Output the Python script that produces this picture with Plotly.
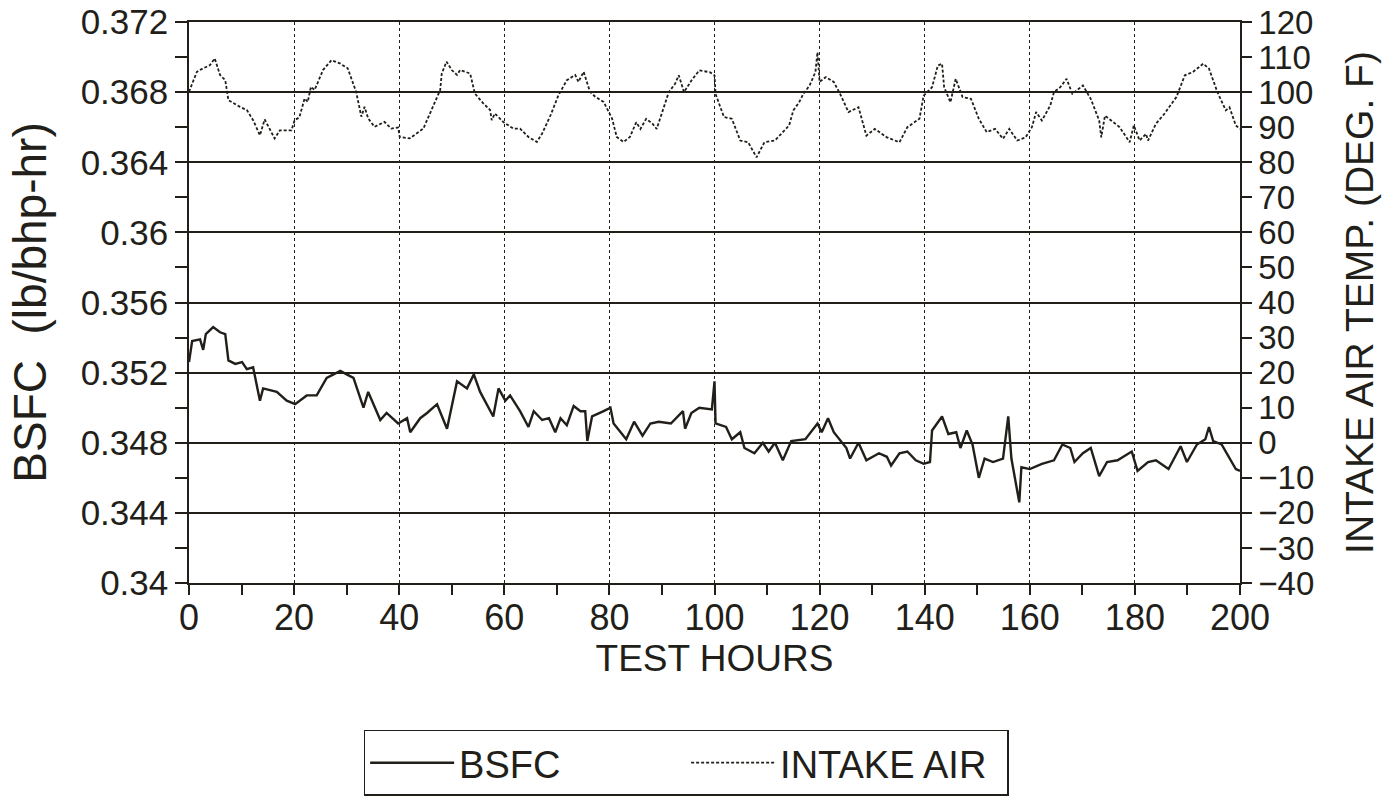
import plotly.graph_objects as go

# ---------------- data ----------------
bsfc_hours = [0, 0.6, 2.1, 2.7, 3.2, 4.6, 5.9, 6.9, 7.5, 8.8, 10.1, 11.0, 12.2, 13.5, 14.1,
              16.7, 18.6, 20.2, 22.4, 24.3, 26.2, 26.9, 28.8, 30.0, 31.3, 33.2, 34.1, 36.4,
              37.6, 39.8, 41.5, 42.1, 44.0, 45.3, 47.2, 49.1, 51.0, 52.9, 54.2, 55.4, 57.9,
              58.9, 60.2, 61.1, 63.0, 64.6, 65.6, 67.2, 68.5, 69.7, 70.7, 71.9, 73.2, 74.5,
              75.4, 75.8, 76.7, 78.9, 80.2, 80.8, 83.2, 84.7, 86.3, 87.8, 89.4, 91.7, 94.0,
              94.4, 95.6, 97.1, 99.5, 100.0, 100.2, 102.2, 103.3, 104.9, 105.7, 107.6, 109.2,
              110.3, 111.5, 113.0, 114.6, 117.3, 119.6, 120.4, 121.6, 122.7, 125.1, 125.8,
              127.4, 128.9, 131.3, 132.8, 133.6, 135.2, 136.7, 138.3, 139.8, 141.0, 141.4,
              143.3, 144.5, 146.0, 146.8, 148.0, 149.1, 150.3, 151.4, 153.0, 154.9, 155.9,
              156.5, 158.0, 158.4, 160.0, 162.3, 164.6, 166.2, 167.7, 168.5, 170.1, 171.6,
              173.2, 174.7, 176.7, 179.4, 180.5, 182.5, 184.0, 186.4, 188.7, 189.9, 191.8,
              193.4, 194.1, 194.9, 196.5, 198.0, 199.2, 200.0]
bsfc_values = [0.3526, 0.3538, 0.3539, 0.3533, 0.3542, 0.3546, 0.3543, 0.3542, 0.3527, 0.3525,
               0.3526, 0.3522, 0.3523, 0.3504, 0.3511, 0.3509, 0.3504, 0.3502, 0.3507, 0.3507,
               0.3517, 0.3518, 0.3521, 0.3519, 0.3517, 0.3500, 0.3509, 0.3493, 0.3497, 0.3491,
               0.3494, 0.3486, 0.3494, 0.3497, 0.3502, 0.3488, 0.3515, 0.3511, 0.3519, 0.3509,
               0.3495, 0.3511, 0.3504, 0.3507, 0.3498, 0.3489, 0.3498, 0.3493, 0.3494, 0.3486,
               0.3494, 0.3490, 0.3501, 0.3498, 0.3498, 0.3481, 0.3495, 0.3498, 0.3500, 0.3491,
               0.3482, 0.3492, 0.3484, 0.3491, 0.3492, 0.3491, 0.3498, 0.3488, 0.3497, 0.3500,
               0.3499, 0.3515, 0.3491, 0.3489, 0.3482, 0.3486, 0.3477, 0.3474, 0.3480, 0.3475,
               0.3480, 0.3470, 0.3481, 0.3482, 0.3491, 0.3486, 0.3494, 0.3486, 0.3477, 0.3471,
               0.3480, 0.3470, 0.3474, 0.3472, 0.3467, 0.3474, 0.3475, 0.3470, 0.3468, 0.3469,
               0.3487, 0.3495, 0.3485, 0.3486, 0.3477, 0.3487, 0.3479, 0.3460, 0.3471, 0.3469,
               0.3471, 0.3495, 0.3471, 0.3446, 0.3466, 0.3465, 0.3468, 0.3470, 0.3479, 0.3477,
               0.3469, 0.3474, 0.3477, 0.3461, 0.3469, 0.3470, 0.3475, 0.3464, 0.3469, 0.3470,
               0.3465, 0.3478, 0.3469, 0.3479, 0.3482, 0.3489, 0.3481, 0.3479, 0.3471, 0.3465,
               0.3464]

air_hours = [0, 1.5, 2.7, 4.0, 4.9, 5.9, 6.9, 7.5, 9.7, 11.0, 12.2, 13.5, 14.4, 15.4, 16.3,
             17.3, 19.5, 20.1, 21.0, 22.0, 22.6, 23.2, 23.9, 25.5, 27.1, 28.7, 30.2, 31.8,
             32.8, 33.4, 34.1, 35.3, 37.2, 38.5, 39.8, 40.1, 42.0, 44.6, 46.8, 47.8, 48.1,
             49.0, 50.0, 51.0, 51.6, 53.5, 54.4, 56.0, 57.3, 57.6, 58.2, 59.8, 61.7, 63.0,
             64.6, 66.2, 67.2, 68.8, 70.3, 71.9, 73.5, 74.1, 75.1, 76.3, 77.3, 78.9, 80.5,
             81.4, 82.7, 83.9, 85.1, 85.9, 87.0, 88.2, 89.0, 90.1, 91.3, 92.5, 93.2, 94.2,
             95.6, 97.1, 99.1, 100.0, 100.2, 101.8, 103.3, 104.9, 106.4, 108.0, 109.5, 111.5,
             113.0, 114.2, 115.0, 116.1, 116.9, 118.1, 119.2, 119.6, 120.0, 121.2, 122.7,
             123.9, 125.5, 127.4, 128.9, 130.5, 132.8, 135.2, 136.7, 139.0, 139.8, 141.4,
             142.5, 143.3, 143.7, 144.9, 145.9, 147.2, 148.8, 150.3, 151.8, 153.4, 154.9,
             156.1, 157.6, 159.2, 160.4, 161.2, 162.3, 163.9, 164.6, 165.8, 167.0, 168.1,
             170.1, 171.6, 173.2, 173.6, 174.3, 177.1, 179.0, 179.8, 180.9, 182.1, 182.5,
             184.0, 185.6, 187.9, 189.5, 191.0, 193.0, 194.1, 195.7, 197.3, 198.0, 199.2, 200.0]
air_values = [100.1, 105.8, 106.8, 107.7, 109.6, 104.9, 103.4, 97.7, 95.8, 94.9, 92.0, 87.7,
              92.2, 89.1, 86.8, 89.1, 89.1, 92.0, 92.8, 98.2, 97.2, 101.5, 100.6, 106.3, 109.1,
              108.2, 106.8, 100.1, 93.0, 95.8, 92.5, 90.1, 91.5, 89.6, 89.9, 87.2, 86.8, 89.6,
              97.2, 100.6, 105.3, 108.7, 106.3, 104.9, 106.3, 105.3, 99.6, 96.8, 94.9, 92.0,
              93.9, 91.5, 89.6, 89.6, 87.2, 85.8, 88.2, 93.4, 99.1, 103.4, 104.9, 102.9, 105.8,
              100.1, 98.7, 97.2, 92.5, 87.2, 85.8, 87.2, 91.4, 89.5, 92.4, 91.0, 89.5, 94.8,
              100.0, 102.4, 104.8, 100.0, 103.3, 106.2, 105.7, 104.8, 99.5, 92.9, 92.4, 86.2,
              85.7, 81.4, 85.7, 86.2, 88.6, 90.5, 94.8, 97.1, 99.5, 101.9, 105.7, 111.4, 102.9,
              104.3, 102.9, 99.5, 94.3, 95.7, 87.6, 89.5, 87.1, 85.7, 90.0, 92.4, 99.0, 101.4,
              107.6, 108.1, 101.4, 97.1, 103.8, 98.6, 98.1, 92.4, 88.6, 89.5, 86.7, 89.5, 86.2,
              87.1, 90.0, 94.3, 91.9, 96.2, 100.0, 101.4, 103.8, 99.5, 101.9, 98.1, 91.9, 87.1,
              93.3, 90.0, 85.7, 90.5, 86.2, 88.1, 86.2, 91.0, 93.8, 98.6, 104.8, 105.7, 108.1,
              106.7, 100.0, 94.8, 95.7, 90.5, 89.5]

bsfc_tickvals = [0.34, 0.344, 0.348, 0.352, 0.356, 0.36, 0.364, 0.368, 0.372]
bsfc_ticktext = ["0.34", "0.344", "0.348", "0.352", "0.356", "0.36", "0.364", "0.368", "0.372"]
bsfc_minorvals = [0.342, 0.346, 0.35, 0.354, 0.358, 0.362, 0.366, 0.37]
temp_tickvals = [-40, -30, -20, -10, 0, 10, 20, 30, 40, 50, 60, 70, 80, 90, 100, 110, 120]
hour_tickvals = [0, 20, 40, 60, 80, 100, 120, 140, 160, 180, 200]

# ---------------- figure ----------------
INK = "#221e19"
FONT = "Liberation Sans, Arial, Helvetica, sans-serif"

fig = go.Figure()
fig.add_trace(go.Scatter(x=bsfc_hours, y=bsfc_values, mode="lines", name="BSFC",
                         line=dict(color=INK, width=2.4), yaxis="y"))
fig.add_trace(go.Scatter(x=air_hours, y=air_values, mode="lines", name="INTAKE AIR",
                         line=dict(color=INK, width=1.8, dash="3px,2px"), yaxis="y2"))

fig.update_layout(
    width=1394, height=804,
    paper_bgcolor="white", plot_bgcolor="white",
    margin=dict(l=189, r=154, t=22, b=221, autoexpand=False),
    font=dict(family=FONT, color=INK),
    showlegend=True,
    legend=dict(orientation="h", x=0.473, xanchor="center", y=-0.262, yanchor="top",
                bordercolor=INK, borderwidth=1.5, bgcolor="white",
                font=dict(size=38, family=FONT, color=INK),
                entrywidth=222, itemwidth=84),
    xaxis=dict(range=[0, 200], tickvals=hour_tickvals, ticks="outside", ticklen=10,
               tickwidth=1.5, tickcolor=INK, showline=True, linecolor=INK, linewidth=1.5,
               mirror=True, showgrid=True, gridcolor=INK, gridwidth=1, griddash="dot",
               zeroline=False, tickfont=dict(size=36), automargin=False,
               ticklabelstandoff=-8,
               minor=dict(dtick=10, ticks="outside", ticklen=10, tickwidth=1.5, tickcolor=INK,
                          showgrid=False),
               title=dict(text="TEST HOURS", font=dict(size=37), standoff=0)),
    yaxis=dict(range=[0.34, 0.372], tickvals=bsfc_tickvals, ticktext=bsfc_ticktext,
               ticks="outside", ticklen=12, tickwidth=1.5, tickcolor=INK, showline=True,
               linecolor=INK, linewidth=1.5, showgrid=True, gridcolor=INK, gridwidth=1.5,
               zeroline=False, tickfont=dict(size=35), automargin=False,
               minor=dict(tickvals=bsfc_minorvals, ticks="outside", ticklen=12, tickwidth=1.5,
                          tickcolor=INK, showgrid=False),
               title=dict(text="BSFC  (lb/bhp-hr)", font=dict(size=46), standoff=20)),
    yaxis2=dict(range=[-40, 120], tickvals=temp_tickvals, overlaying="y", side="right",
                ticks="outside", ticklen=10, tickwidth=1.5, tickcolor=INK, showline=True,
                linecolor=INK, linewidth=1.5, showgrid=False, zeroline=False,
                tickfont=dict(size=33), automargin=False,
                title=dict(text="INTAKE AIR TEMP. (DEG. F)", font=dict(size=39), standoff=32)),
)

fig.write_html("out.html")
